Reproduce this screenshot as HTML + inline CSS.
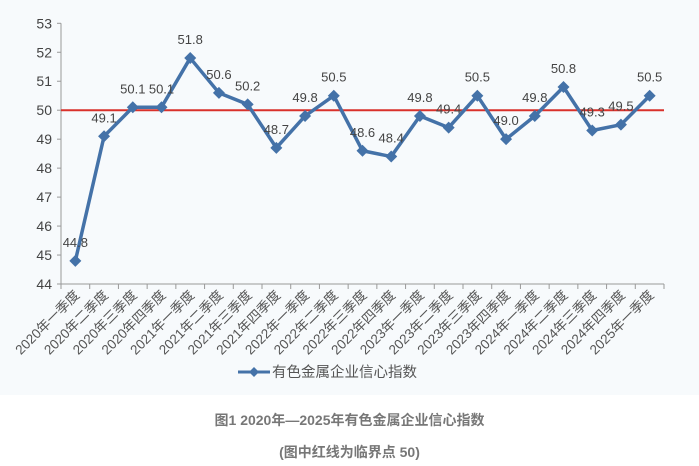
<!DOCTYPE html>
<html><head><meta charset="utf-8">
<style>
html,body{margin:0;padding:0;background:#fff;}
body{width:699px;height:466px;overflow:hidden;font-family:"Liberation Sans","Noto Sans CJK SC",sans-serif;}
#wrap{position:absolute;left:0;top:0;width:699px;height:395px;background:#f7fafc;}
.cap{position:absolute;left:0;width:699px;text-align:center;color:#777;font-weight:bold;font-size:14px;font-family:"Liberation Sans","Noto Sans CJK SC",sans-serif;}
</style></head>
<body>
<div id="wrap">
<svg id="chart" width="699" height="395"></svg>
</div>
<div class="cap" style="top:410px">图1 2020年—2025年有色金属企业信心指数</div>
<div class="cap" style="top:442px">(图中红线为临界点 50)</div>
<script>
const categories=["2020年一季度","2020年二季度","2020年三季度","2020年四季度","2021年一季度","2021年二季度","2021年三季度","2021年四季度","2022年一季度","2022年二季度","2022年三季度","2022年四季度","2023年一季度","2023年二季度","2023年三季度","2023年四季度","2024年一季度","2024年二季度","2024年三季度","2024年四季度","2025年一季度"];
const values=[44.8,49.1,50.1,50.1,51.8,50.6,50.2,48.7,49.8,50.5,48.6,48.4,49.8,49.4,50.5,49.0,49.8,50.8,49.3,49.5,50.5];
const yTicks=[44,45,46,47,48,49,50,51,52,53];
const threshold=50;
const seriesName="有色金属企业信心指数";

const NS="http://www.w3.org/2000/svg";
const svg=document.getElementById('chart');
const X0=61,X1=664,Y0=284,Y1=23.3,yMin=44,yMax=53;
const bw=(X1-X0)/categories.length;
function xPos(i){return X0+bw*(i+0.5);}
function yPos(v){return Y0-(v-yMin)/(yMax-yMin)*(Y0-Y1);}
function mk(tag,attrs){const e=document.createElementNS(NS,tag);for(const k in attrs)e.setAttribute(k,attrs[k]);svg.appendChild(e);return e;}

let ax=mk('line',{x1:X0,y1:Y1,x2:X0,y2:Y0,stroke:'#999','stroke-width':1});


yTicks.forEach(t=>{
  mk('line',{x1:X0-4,y1:yPos(t),x2:X0,y2:yPos(t),stroke:'#999'});
  const tx=mk('text',{x:X0-9,y:yPos(t)+5,'text-anchor':'end','font-size':14,fill:'#444'});
  tx.textContent=t;
  
  
});
let xa=mk('line',{x1:X0,y1:Y0,x2:X1,y2:Y0,stroke:'#999','stroke-width':1});


for(let i=0;i<=categories.length;i++){mk('line',{x1:X0+bw*i,y1:Y0,x2:X0+bw*i,y2:Y0+5,stroke:'#999'});}
categories.forEach((c,i)=>{
  const x=xPos(i)+5,y=Y0+12;
  const t=mk('text',{x:x,y:y,'text-anchor':'end','font-size':13.5,fill:'#555',transform:`rotate(-45 ${x} ${y})`});
  t.textContent=c;
  
  
});
let rl=mk('line',{x1:X0,y1:yPos(threshold),x2:X1,y2:yPos(threshold),stroke:'#d9312b','stroke-width':2});


let pts=values.map((v,i)=>xPos(i)+','+yPos(v)).join(' ');
let pl=mk('polyline',{points:pts,fill:'none',stroke:'#4472a8','stroke-width':3.5,'stroke-linejoin':'round'});


values.forEach((v,i)=>{
  const x=xPos(i),y=yPos(v);
  const m=mk('polygon',{points:`${x},${y-6} ${x+6},${y} ${x},${y+6} ${x-6},${y}`,fill:'#4472a8'});
  
  
  const l=mk('text',{x:x,y:y-14,'text-anchor':'middle','font-size':13,fill:'#444'});
  l.textContent=v.toFixed(1);
  
  
});
const lg=mk('g',{});


const lx=238,ly=372;
const ll=document.createElementNS(NS,'line');
ll.setAttribute('x1',lx);ll.setAttribute('y1',ly);ll.setAttribute('x2',lx+32);ll.setAttribute('y2',ly);ll.setAttribute('stroke','#4472a8');ll.setAttribute('stroke-width',3);lg.appendChild(ll);
const ld=document.createElementNS(NS,'polygon');
ld.setAttribute('points',`${lx+16},${ly-5} ${lx+21},${ly} ${lx+16},${ly+5} ${lx+11},${ly}`);ld.setAttribute('fill','#4472a8');lg.appendChild(ld);
const lt=document.createElementNS(NS,'text');
lt.setAttribute('x',lx+34);lt.setAttribute('y',ly+5);lt.setAttribute('font-size',14.5);lt.setAttribute('fill','#555');lt.textContent=seriesName;lg.appendChild(lt);
</script>
</body></html>
